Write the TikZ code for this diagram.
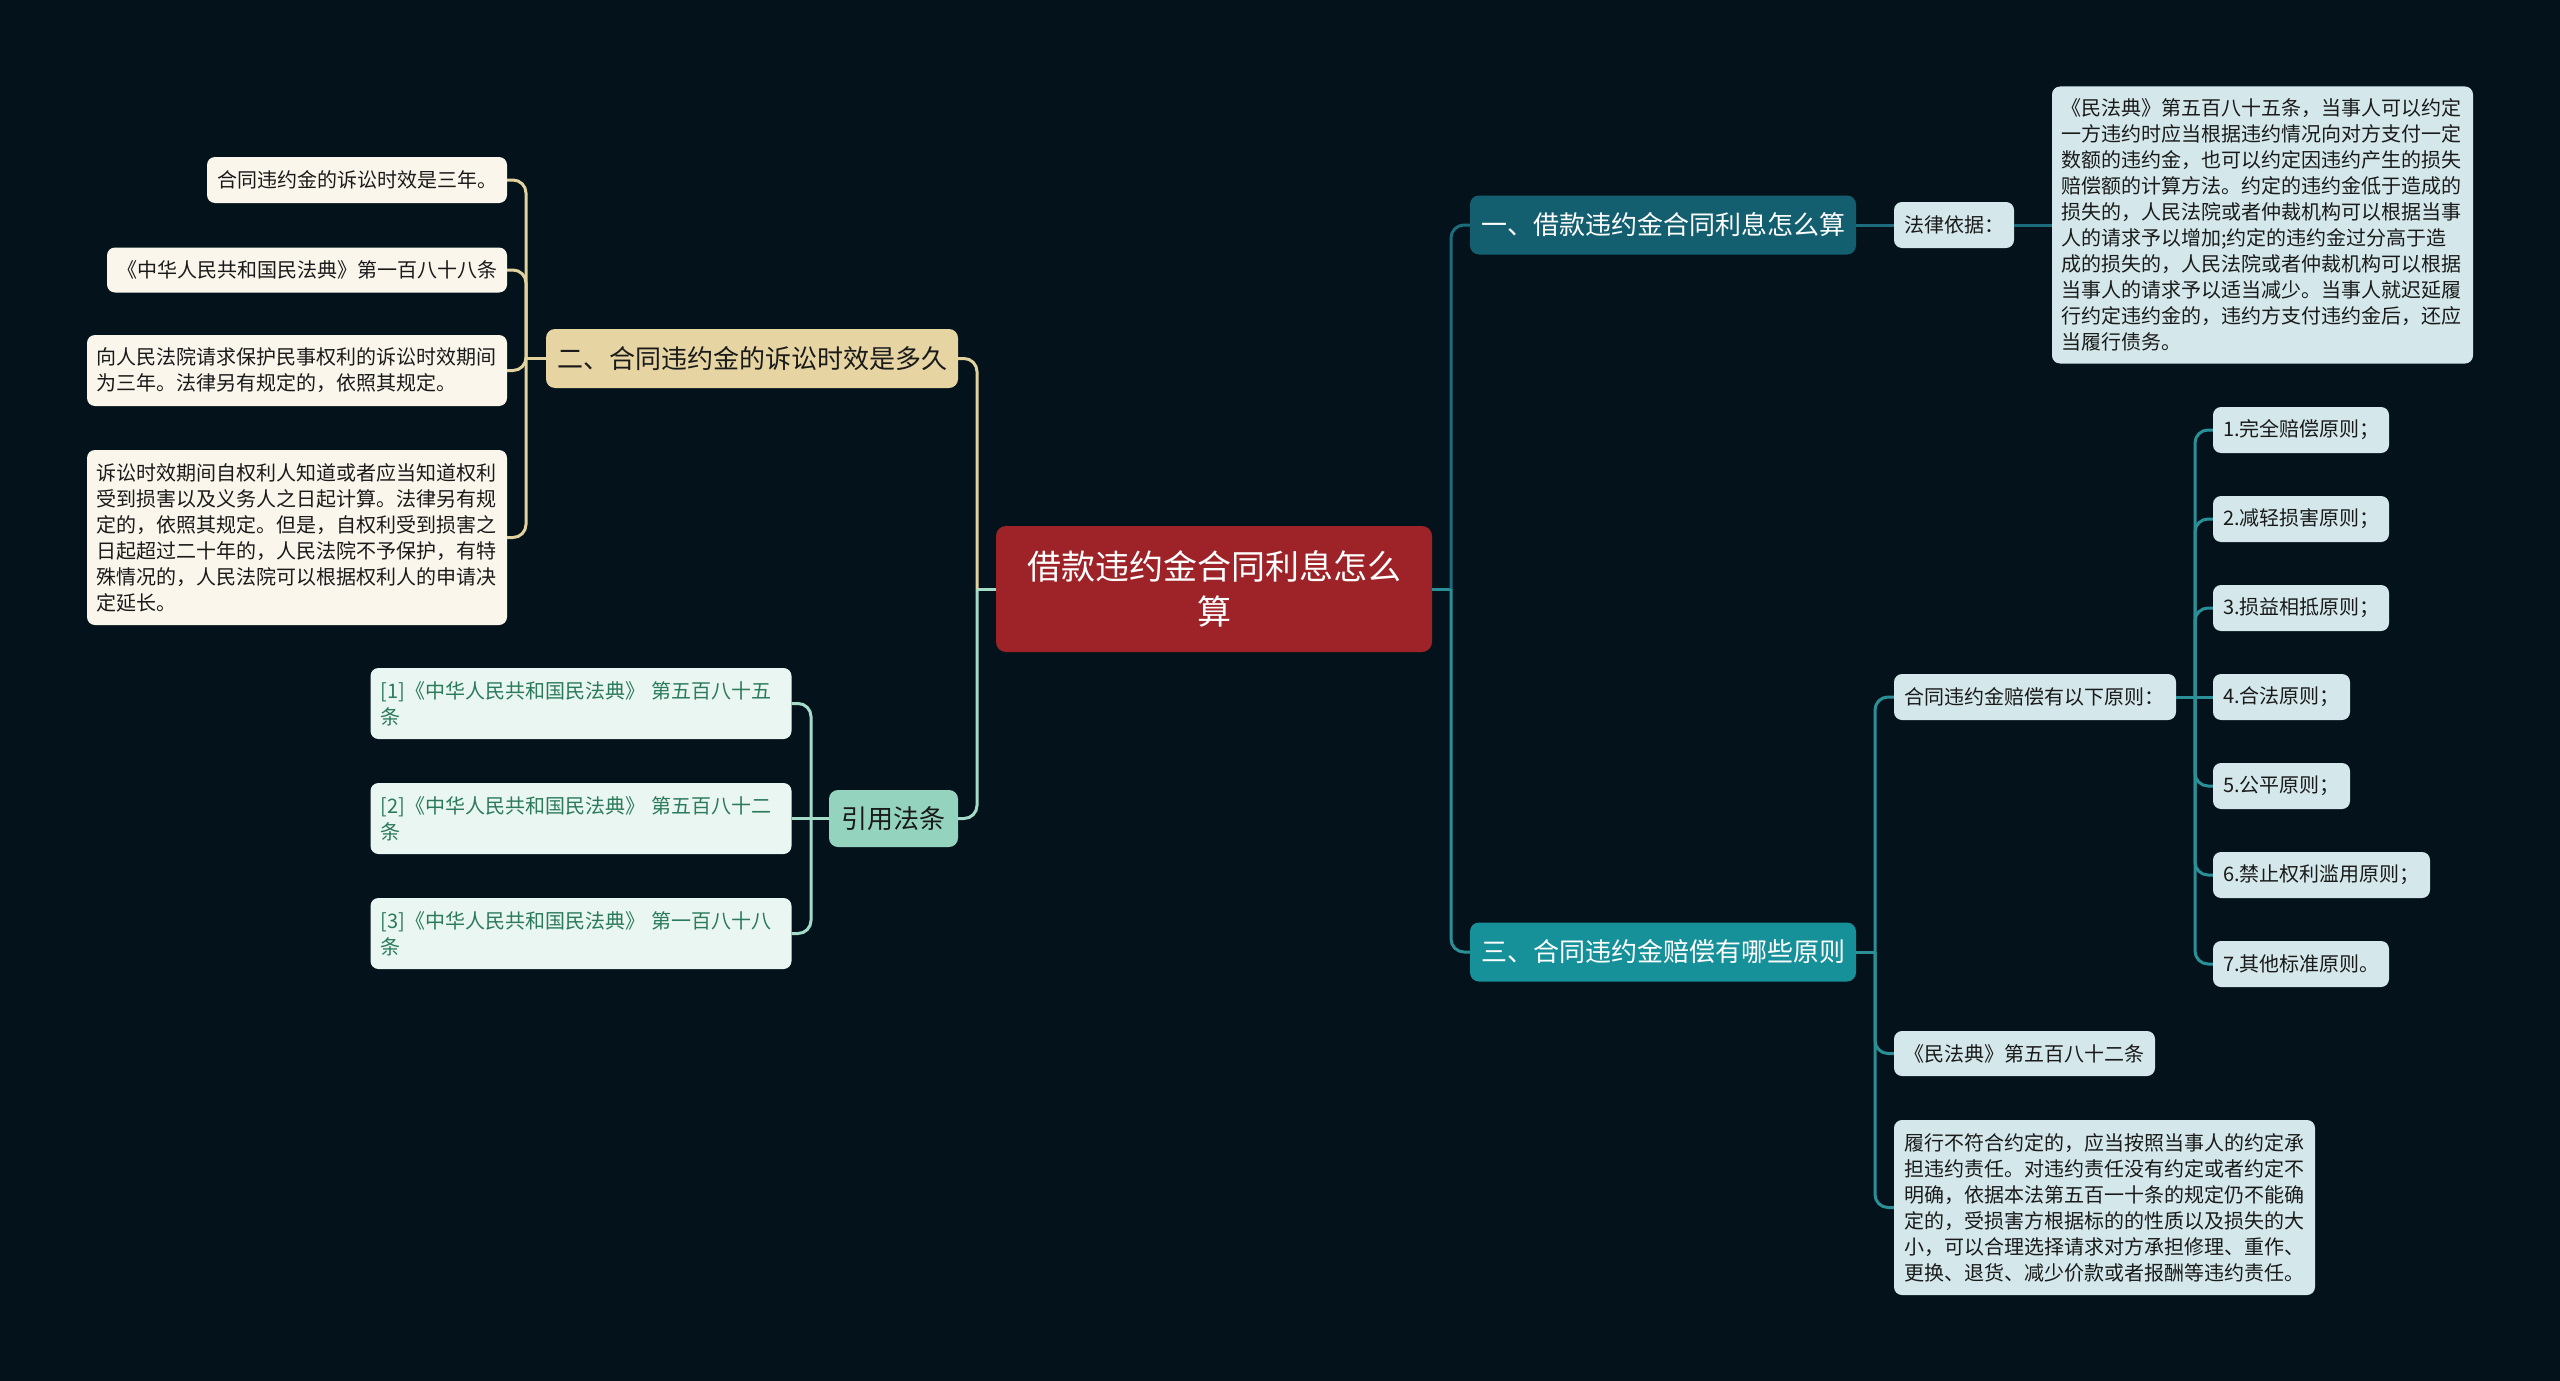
\documentclass[tikz,border=0pt]{standalone}
\usepackage{fontspec}
\newfontfamily\cjk{Noto Sans CJK SC}
\definecolor{bgc}{HTML}{04131B}
\definecolor{rootred}{HTML}{9D2328}
\definecolor{bonefill}{HTML}{135F70}
\definecolor{boneline}{HTML}{1D6C7E}
\definecolor{bthreefill}{HTML}{16919A}
\definecolor{bthreeline}{HTML}{2A8F97}
\definecolor{paleteal}{HTML}{D4E8EB}
\definecolor{beige}{HTML}{E6D5A3}
\definecolor{beigeline}{HTML}{E2D29F}
\definecolor{cream}{HTML}{FAF6EC}
\definecolor{mint}{HTML}{94D4BE}
\definecolor{mintline}{HTML}{A5DBC9}
\definecolor{rboxfill}{HTML}{EAF6F1}
\definecolor{rtext}{HTML}{2B7A5B}
\definecolor{darktext}{HTML}{1A1A1A}
\begin{document}
\begin{tikzpicture}[x=1pt,y=-1pt,
  sbox/.style={rounded corners=8pt, inner xsep=10pt, inner ysep=0pt, align=left,
    font={\cjk\fontsize{20}{26}\selectfont}, text=darktext},
  bigbox/.style={rounded corners=9pt, inner sep=0pt, align=center,
    font={\cjk\fontsize{26}{32}\selectfont}},
  conn/.style={line width=3pt},
  rc/.style={line width=3pt, rounded corners=13pt}]
\fill[bgc] (0,0) rectangle (2560,1381);
\useasboundingbox (0,0) rectangle (2560,1381);

% root
\node[rounded corners=10pt, fill=rootred, text=white, inner sep=0pt, align=center,
  minimum width=436pt, minimum height=126pt,
  font={\cjk\fontsize{34}{45}\selectfont}] (root) at (1214,589) {借款违约金合同利息怎么\\算};

% branch 1
\node[bigbox, fill=bonefill, text=white, minimum width=386pt, minimum height=59pt] (b1) at (1663,225) {一、借款违约金合同利息怎么算};
\node[sbox, fill=paleteal, text width=100pt, minimum height=46pt] (basis) at (1954,225) {法律依据：};
\node[sbox, fill=paleteal, text width=403pt, inner xsep=9pt, minimum height=277pt] (law) at (2262.5,225) {《民法典》第五百八十五条，当事人可以约定\\一方违约时应当根据违约情况向对方支付一定\\数额的违约金，也可以约定因违约产生的损失\\赔偿额的计算方法。约定的违约金低于造成的\\损失的，人民法院或者仲裁机构可以根据当事\\人的请求予以增加;约定的违约金过分高于造\\成的损失的，人民法院或者仲裁机构可以根据\\当事人的请求予以适当减少。当事人就迟延履\\行约定违约金的，违约方支付违约金后，还应\\当履行债务。};

% branch 3
\node[bigbox, fill=bthreefill, text=white, minimum width=386pt, minimum height=59pt] (b3) at (1663,952) {三、合同违约金赔偿有哪些原则};
\node[sbox, fill=paleteal, text width=262pt, minimum height=46pt] (p) at (2035,697) {合同违约金赔偿有以下原则：};
\node[sbox, fill=paleteal, text width=156pt, minimum height=46pt] (i1) at (2301,430) {1.完全赔偿原则；};
\node[sbox, fill=paleteal, text width=156pt, minimum height=46pt] (i2) at (2301,519) {2.减轻损害原则；};
\node[sbox, fill=paleteal, text width=156pt, minimum height=46pt] (i3) at (2301,608) {3.损益相抵原则；};
\node[sbox, fill=paleteal, text width=117pt, minimum height=46pt] (i4) at (2281.5,697) {4.合法原则；};
\node[sbox, fill=paleteal, text width=117pt, minimum height=46pt] (i5) at (2281.5,786) {5.公平原则；};
\node[sbox, fill=paleteal, text width=197pt, minimum height=46pt] (i6) at (2321.5,875) {6.禁止权利滥用原则；};
\node[sbox, fill=paleteal, text width=156pt, minimum height=46pt] (i7) at (2301,964) {7.其他标准原则。};
\node[sbox, fill=paleteal, text width=241pt, minimum height=45pt] (m582) at (2024.5,1053.5) {《民法典》第五百八十二条};
\node[sbox, fill=paleteal, text width=401pt, minimum height=175pt] (dut) at (2104.5,1207.5) {履行不符合约定的，应当按照当事人的约定承\\担违约责任。对违约责任没有约定或者约定不\\明确，依据本法第五百一十条的规定仍不能确\\定的，受损害方根据标的的性质以及损失的大\\小，可以合理选择请求对方承担修理、重作、\\更换、退货、减少价款或者报酬等违约责任。};

% branch 2
\node[bigbox, fill=beige, text=darktext, minimum width=412pt, minimum height=59pt] (b2) at (752,358.5) {二、合同违约金的诉讼时效是多久};
\node[sbox, fill=cream, text width=280pt, minimum height=46pt] (c1) at (357,180) {合同违约金的诉讼时效是三年。};
\node[sbox, fill=cream, text width=380pt, minimum height=45pt] (c2) at (307,270) {《中华人民共和国民法典》第一百八十八条};
\node[sbox, fill=cream, text width=401pt, inner xsep=9.5pt, minimum height=71pt] (c3) at (297,370.5) {向人民法院请求保护民事权利的诉讼时效期间\\为三年。法律另有规定的，依照其规定。};
\node[sbox, fill=cream, text width=401pt, inner xsep=9.5pt, minimum height=175pt] (c4) at (297,537.5) {诉讼时效期间自权利人知道或者应当知道权利\\受到损害以及义务人之日起计算。法律另有规\\定的，依照其规定。但是，自权利受到损害之\\日起超过二十年的，人民法院不予保护，有特\\殊情况的，人民法院可以根据权利人的申请决\\定延长。};

% cited laws
\node[bigbox, fill=mint, text=darktext, minimum width=129pt, minimum height=57pt] (cite) at (893.5,818.5) {引用法条};
\node[sbox, fill=rboxfill, text=rtext, text width=401pt, minimum height=71pt] (r1) at (581,703.5) {[1]《中华人民共和国民法典》 第五百八十五\\条};
\node[sbox, fill=rboxfill, text=rtext, text width=401pt, minimum height=71pt] (r2) at (581,818.5) {[2]《中华人民共和国民法典》 第五百八十二\\条};
\node[sbox, fill=rboxfill, text=rtext, text width=401pt, minimum height=71pt] (r3) at (581,933.5) {[3]《中华人民共和国民法典》 第一百八十八\\条};

% junctions
\coordinate (jR) at (1451,589);
\coordinate (jL) at (977,589);
\coordinate (jB3) at (1875,952);
\coordinate (jP) at (2195,697);
\coordinate (jB2) at (526,358.5);
\coordinate (jC) at (811,818.5);

% right side
\draw[conn, bthreeline] (root.east) -- (jR);
\draw[rc, boneline] (jR) |- (b1.west);
\draw[rc, bthreeline] (jR) |- (b3.west);
\draw[conn, boneline] (b1.east) -- (basis.west);
\draw[conn, boneline] (basis.east) -- (law.west);
\draw[conn, bthreeline] (b3.east) -- (jB3);
\draw[rc, bthreeline] (jB3) |- (p.west);
\draw[rc, bthreeline] (jB3) |- (m582.west);
\draw[rc, bthreeline] (jB3) |- (dut.west);
\draw[conn, bthreeline] (p.east) -- (jP);
\draw[rc, bthreeline] (jP) |- (i1.west);
\draw[rc, bthreeline] (jP) |- (i2.west);
\draw[rc, bthreeline] (jP) |- (i3.west);
\draw[conn, bthreeline] (jP) -- (i4.west);
\draw[rc, bthreeline] (jP) |- (i5.west);
\draw[rc, bthreeline] (jP) |- (i6.west);
\draw[rc, bthreeline] (jP) |- (i7.west);

% left side
\draw[conn, mintline] (root.west) -- (jL);
\draw[rc, beigeline] (jL) |- (b2.east);
\draw[rc, mintline] (jL) |- (cite.east);
\draw[conn, beigeline] (b2.west) -- (jB2);
\draw[rc, beigeline] (jB2) |- (c1.east);
\draw[rc, beigeline] (jB2) |- (c2.east);
\draw[rc, beigeline] (jB2) |- (c3.east);
\draw[rc, beigeline] (jB2) |- (c4.east);
\draw[conn, mintline] (cite.west) -- (jC);
\draw[rc, mintline] (jC) |- (r1.east);
\draw[conn, mintline] (jC) -- (r2.east);
\draw[rc, mintline] (jC) |- (r3.east);
\end{tikzpicture}
\end{document}
